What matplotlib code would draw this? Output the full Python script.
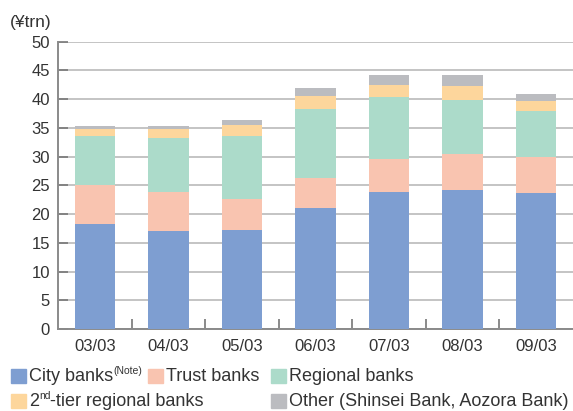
import matplotlib.pyplot as plt
from matplotlib.patches import Rectangle
import numpy as np

plt.rcParams['font.family'] = ['Liberation Sans', 'DejaVu Sans']

years = ["03/03", "04/03", "05/03", "06/03", "07/03", "08/03", "09/03"]
city = [18.3, 17.1, 17.3, 21.1, 23.9, 24.2, 23.7]
trust = [6.75, 6.8, 5.4, 5.1, 5.6, 6.3, 6.3]
regional = [8.55, 9.4, 10.9, 12.1, 10.8, 9.4, 8.0]
second_tier = [1.2, 1.5, 1.9, 2.3, 2.2, 2.3, 1.7]
other = [0.6, 0.6, 0.9, 1.4, 1.7, 1.9, 1.2]

series = [city, trust, regional, second_tier, other]
colors = ["#7e9ed1", "#f9c4b0", "#acdbca", "#fdd69c", "#bbbcc0"]
# each label as pieces: (text, is_superscript)
labels = [[("City banks", False), ("(Note)", True)],
          [("Trust banks", False)],
          [("Regional banks", False)],
          [("2", False), ("nd", True), ("-tier regional banks", False)],
          [("Other (Shinsei Bank, Aozora Bank)", False)]]

txt = "#333333"

fig = plt.figure(figsize=(5.73, 4.11), dpi=100)
ax = fig.add_axes([0.1017, 0.199, 0.898, 0.70])

x = np.arange(len(years))
bottom = np.zeros(len(years))
for vals, c in zip(series, colors):
    ax.bar(x, vals, bottom=bottom, width=0.555, color=c, zorder=3)
    bottom += np.array(vals)

ax.set_ylim(0, 50)
ax.set_xlim(-0.5, 6.5)
ax.set_yticks(np.arange(0, 51, 5))
ax.set_xticks(x)
ax.set_xticklabels(years)
ax.set_xticks(x[:-1] + 0.5, minor=True)
ax.tick_params(axis="x", which="major", length=0, pad=7, labelsize=12, labelcolor=txt)
ax.tick_params(axis="x", which="minor", direction="in", length=7, width=1.2, color="#777777")
ax.tick_params(axis="y", direction="in", length=7, width=1.2, color="#777777",
               pad=6, labelsize=12, labelcolor=txt)
ax.grid(axis="y", color="#c4c4c4", linewidth=1.4, zorder=0)
for s in ["top", "right"]:
    ax.spines[s].set_visible(False)
for s in ["left", "bottom"]:
    ax.spines[s].set_color("#8a8a8a")
    ax.spines[s].set_linewidth(1.4)

fig.text(0.017, 0.928, "(¥trn)", fontsize=12.5, color=txt, va="bottom")

# legend drawn by hand: two rows
W, H = 573, 411
legend_pos = [(11, 376), (148, 376), (271, 376), (11, 401), (271, 401)]
renderer = fig.canvas.get_renderer()
for (px, py), c, pieces in zip(legend_pos, colors, labels):
    fig.patches.append(Rectangle((px / W, 1 - (py + 7) / H), 15 / W, 14 / H,
                                 transform=fig.transFigure, color=c))
    cx = px + 18
    for s, sup in pieces:
        if sup:
            t = fig.text(cx / W, 1 - (py - 5) / H, s, fontsize=7.5, color=txt, va="center")
        else:
            t = fig.text(cx / W, 1 - py / H, s, fontsize=13, color=txt, va="center")
        cx += t.get_window_extent(renderer).width

fig.savefig("out.png", dpi=100)
